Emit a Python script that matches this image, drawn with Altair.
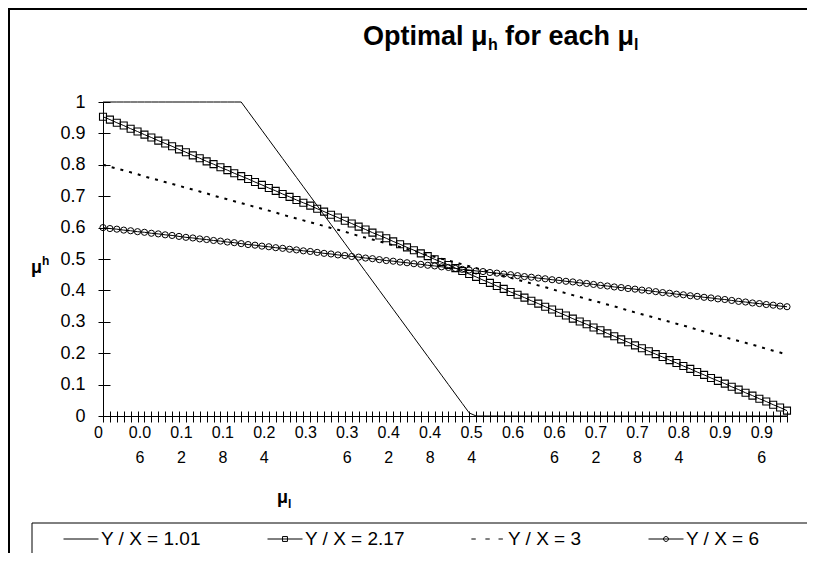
import altair as alt
import pandas as pd

# category axis: mu_l from 0.00 to 0.99
mu_l = [round(i * 0.01, 2) for i in range(100)]

# Y / X = 1.01
yx_101 = [1.0, 1.0, 1.0, 1.0, 1.0, 1.0, 1.0, 1.0, 1.0, 1.0,
          1.0, 1.0, 1.0, 1.0, 1.0, 1.0, 1.0, 1.0, 1.0, 1.0,
          1.0, 0.97, 0.94, 0.91, 0.88, 0.85, 0.82, 0.79, 0.76, 0.73,
          0.70, 0.67, 0.64, 0.61, 0.58, 0.55, 0.52, 0.49, 0.46, 0.43,
          0.40, 0.37, 0.34, 0.31, 0.28, 0.25, 0.22, 0.19, 0.16, 0.13,
          0.10, 0.07, 0.04, 0.01, 0.0, 0.0, 0.0, 0.0, 0.0, 0.0,
          0.0, 0.0, 0.0, 0.0, 0.0, 0.0, 0.0, 0.0, 0.0, 0.0,
          0.0, 0.0, 0.0, 0.0, 0.0, 0.0, 0.0, 0.0, 0.0, 0.0,
          0.0, 0.0, 0.0, 0.0, 0.0, 0.0, 0.0, 0.0, 0.0, 0.0,
          0.0, 0.0, 0.0, 0.0, 0.0, 0.0, 0.0, 0.0, 0.0, 0.0]

# Y / X = 2.17
yx_217 = [0.953, 0.944, 0.934, 0.925, 0.915, 0.906, 0.896, 0.887, 0.877, 0.868,
          0.859, 0.849, 0.840, 0.830, 0.821, 0.811, 0.802, 0.792, 0.783, 0.773,
          0.764, 0.755, 0.745, 0.736, 0.726, 0.717, 0.707, 0.698, 0.688, 0.679,
          0.670, 0.660, 0.651, 0.641, 0.632, 0.622, 0.613, 0.603, 0.594, 0.584,
          0.575, 0.566, 0.556, 0.547, 0.537, 0.528, 0.518, 0.509, 0.499, 0.490,
          0.481, 0.471, 0.462, 0.452, 0.443, 0.433, 0.424, 0.414, 0.405, 0.395,
          0.386, 0.377, 0.367, 0.358, 0.348, 0.339, 0.329, 0.320, 0.310, 0.301,
          0.292, 0.282, 0.273, 0.263, 0.254, 0.244, 0.235, 0.225, 0.216, 0.206,
          0.197, 0.188, 0.178, 0.169, 0.159, 0.150, 0.140, 0.131, 0.121, 0.112,
          0.103, 0.093, 0.084, 0.074, 0.065, 0.055, 0.046, 0.036, 0.027, 0.017]

# Y / X = 3
yx_3 = [0.800, 0.794, 0.788, 0.782, 0.776, 0.770, 0.763, 0.757, 0.751, 0.745,
        0.739, 0.733, 0.727, 0.721, 0.715, 0.709, 0.702, 0.696, 0.690, 0.684,
        0.678, 0.672, 0.666, 0.660, 0.654, 0.648, 0.641, 0.635, 0.629, 0.623,
        0.617, 0.611, 0.605, 0.599, 0.593, 0.587, 0.580, 0.574, 0.568, 0.562,
        0.556, 0.550, 0.544, 0.538, 0.532, 0.526, 0.519, 0.513, 0.507, 0.501,
        0.495, 0.489, 0.483, 0.477, 0.471, 0.465, 0.458, 0.452, 0.446, 0.440,
        0.434, 0.428, 0.422, 0.416, 0.410, 0.404, 0.397, 0.391, 0.385, 0.379,
        0.373, 0.367, 0.361, 0.355, 0.349, 0.343, 0.336, 0.330, 0.324, 0.318,
        0.312, 0.306, 0.300, 0.294, 0.288, 0.282, 0.275, 0.269, 0.263, 0.257,
        0.251, 0.245, 0.239, 0.233, 0.227, 0.221, 0.214, 0.208, 0.202, 0.196]

# Y / X = 6
yx_6 = [0.600, 0.597, 0.595, 0.592, 0.590, 0.587, 0.585, 0.582, 0.580, 0.577,
        0.575, 0.572, 0.569, 0.567, 0.564, 0.562, 0.559, 0.557, 0.554, 0.552,
        0.549, 0.546, 0.544, 0.541, 0.539, 0.536, 0.534, 0.531, 0.529, 0.526,
        0.524, 0.521, 0.518, 0.516, 0.513, 0.511, 0.508, 0.506, 0.503, 0.501,
        0.498, 0.495, 0.493, 0.490, 0.488, 0.485, 0.483, 0.480, 0.478, 0.475,
        0.473, 0.470, 0.467, 0.465, 0.462, 0.460, 0.457, 0.455, 0.452, 0.450,
        0.447, 0.444, 0.442, 0.439, 0.437, 0.434, 0.432, 0.429, 0.427, 0.424,
        0.422, 0.419, 0.416, 0.414, 0.411, 0.409, 0.406, 0.404, 0.401, 0.399,
        0.396, 0.393, 0.391, 0.388, 0.386, 0.383, 0.381, 0.378, 0.376, 0.373,
        0.371, 0.368, 0.365, 0.363, 0.360, 0.358, 0.355, 0.353, 0.350, 0.348]

series_names = ["Y / X = 1.01", "Y / X = 2.17", "Y / X = 3", "Y / X = 6"]
y_ticks = [0, 0.1, 0.2, 0.3, 0.4, 0.5, 0.6, 0.7, 0.8, 0.9, 1]

df = pd.DataFrame({
    "mu_l": mu_l * 4,
    "mu_h": yx_101 + yx_217 + yx_3 + yx_6,
    "series": sum([[s] * len(mu_l) for s in series_names], []),
})

FONT = "Liberation Sans"
xscale = alt.Scale(domain=[0, 0.99], nice=False, zero=False)
yscale = alt.Scale(domain=[0, 1], nice=False)

x_axis_main = alt.Axis(
    orient="bottom", values=mu_l, tickSize=6, tickColor="black", tickWidth=1,
    domainColor="black", domainWidth=1, grid=False, title=None,
    labelFont=FONT, labelFontSize=16, labelColor="black",
    labelExpr="round(datum.value*100) % 6 == 0 ? (length(datum.label) > 3 ? "
              "[substring(datum.label,0,3), substring(datum.label,3)] : datum.label) : ''",
    format=".2~f", labelOverlap=False, labelFlush=False, labelBound=False,
    labelPadding=2, labelLineHeight=25, labelOffset=-5,
)
x_axis_inner = alt.Axis(
    orient="bottom", values=mu_l, tickSize=5, offset=-5, tickColor="black",
    domain=False, labels=False, grid=False, title=None,
)
y_axis_main = alt.Axis(
    orient="left", values=y_ticks, tickSize=5, tickColor="black",
    domainColor="black", grid=False, title=None, format=".1~f",
    labelFont=FONT, labelFontSize=18, labelColor="black",
    labelAlign="right", labelPadding=13,
)
y_axis_inner = alt.Axis(
    orient="left", values=y_ticks, tickSize=7, offset=-7, tickColor="black",
    domain=False, labels=False, grid=False, title=None,
)

base = alt.Chart(df)


def sel(name):
    return base.transform_filter(alt.datum.series == name)


line_101 = sel(series_names[0]).mark_line(color="black", strokeWidth=1).encode(
    x=alt.X("mu_l:Q", scale=xscale, axis=x_axis_main),
    y=alt.Y("mu_h:Q", scale=yscale, axis=y_axis_main),
)
line_217 = sel(series_names[1]).mark_line(color="black", strokeWidth=1).encode(
    x=alt.X("mu_l:Q", scale=xscale, axis=x_axis_inner),
    y=alt.Y("mu_h:Q", scale=yscale, axis=y_axis_inner),
)
pts_217 = sel(series_names[1]).mark_point(
    shape="square", size=49, filled=False, color="black", strokeWidth=1.1, opacity=1
).encode(
    x=alt.X("mu_l:Q", scale=xscale, axis=None),
    y=alt.Y("mu_h:Q", scale=yscale, axis=None),
)
line_3 = sel(series_names[2]).mark_line(color="black", strokeWidth=2, strokeDash=[3, 6]).encode(
    x=alt.X("mu_l:Q", scale=xscale, axis=None),
    y=alt.Y("mu_h:Q", scale=yscale, axis=None),
)
line_6 = sel(series_names[3]).mark_line(color="black", strokeWidth=1).encode(
    x=alt.X("mu_l:Q", scale=xscale, axis=None),
    y=alt.Y("mu_h:Q", scale=yscale, axis=None),
)
pts_6 = sel(series_names[3]).mark_point(
    shape="circle", size=38, filled=False, color="black", strokeWidth=1, opacity=1
).encode(
    x=alt.X("mu_l:Q", scale=xscale, axis=None),
    y=alt.Y("mu_h:Q", scale=yscale, axis=None),
)

# legend driven by a hidden layer whose shapes are line-with-marker keys
legend_paths = [
    "M-1,0H1",
    "M-1,0H1M-0.14,-0.14H0.14V0.14H-0.14Z",
    "M-0.95,0H-0.7M-0.15,0H0.1M0.6,0H0.85",
    "M-1,0H1M0.14,0A0.14,0.14 0 1,1 -0.14,0A0.14,0.14 0 1,1 0.14,0Z",
]
legend_layer = alt.Chart(alt.Data(values=[{"series": s} for s in series_names])).mark_point(
    filled=False, color="black", size=1225, strokeWidth=1, opacity=1
).encode(
    x=alt.value(-2000), y=alt.value(-2000),
    shape=alt.Shape("series:N", scale=alt.Scale(domain=series_names, range=legend_paths),
                    legend=alt.Legend(
                        title=None, orient="none", legendX=63 - 103, legendY=419,
                        direction="horizontal", columns=4, columnPadding=64,
                        labelFont=FONT, labelFontSize=19, labelColor="black",
                        labelLimit=0, symbolSize=1225, symbolStrokeWidth=1,
                        symbolStrokeColor="black", labelOffset=2, padding=0,
                    )),
)

one = alt.Data(values=[{}])


def txt(s, x, y, size, bold=True, align="left"):
    return alt.Chart(one).mark_text(
        text=s, font=FONT, fontSize=size, fontWeight="bold" if bold else "normal",
        color="black", align=align, baseline="alphabetic",
    ).encode(x=alt.value(x), y=alt.value(y))


OX, OY = 103, 102  # plot origin on the page
texts = [
    txt("Optimal μ", 363 - OX, 45 - OY, 27),
    txt("h", 488 - OX, 50 - OY, 16),
    txt("for each μ", 505 - OX, 45 - OY, 27),
    txt("l", 634 - OX, 50 - OY, 16),
    txt("μ", 31 - OX, 273 - OY, 18),
    txt("h", 42 - OX, 265 - OY, 12),
    txt("μ", 277 - OX, 503 - OY, 18),
    txt("l", 288 - OX, 508 - OY, 12),
]

legend_box = alt.Chart(one).mark_rect(fill=None, stroke="black", strokeWidth=1).encode(
    x=alt.value(32 - OX), x2=alt.value(812 - OX), y=alt.value(523 - OY), y2=alt.value(555 - OY)
)
frame_left = alt.Chart(one).mark_rule(color="black", strokeWidth=2).encode(
    x=alt.value(9 - OX), y=alt.value(8 - OY), y2=alt.value(600 - OY)
)
frame_top = alt.Chart(one).mark_rule(color="black", strokeWidth=2).encode(
    x=alt.value(8 - OX), x2=alt.value(830 - OX), y=alt.value(9 - OY)
)

chart = alt.layer(
    line_101, line_217, pts_217, line_3, line_6, pts_6, legend_layer,
    legend_box, frame_left, frame_top, *texts
).resolve_axis(x="independent", y="independent").properties(
    width=684, height=314,
    autosize=alt.AutoSizeParams(type="none"),
    padding={"left": 95, "top": 94, "right": 20, "bottom": 137},
).configure_view(stroke=None)

chart.save("out.html", embed_options={"renderer": "svg", "actions": False})
